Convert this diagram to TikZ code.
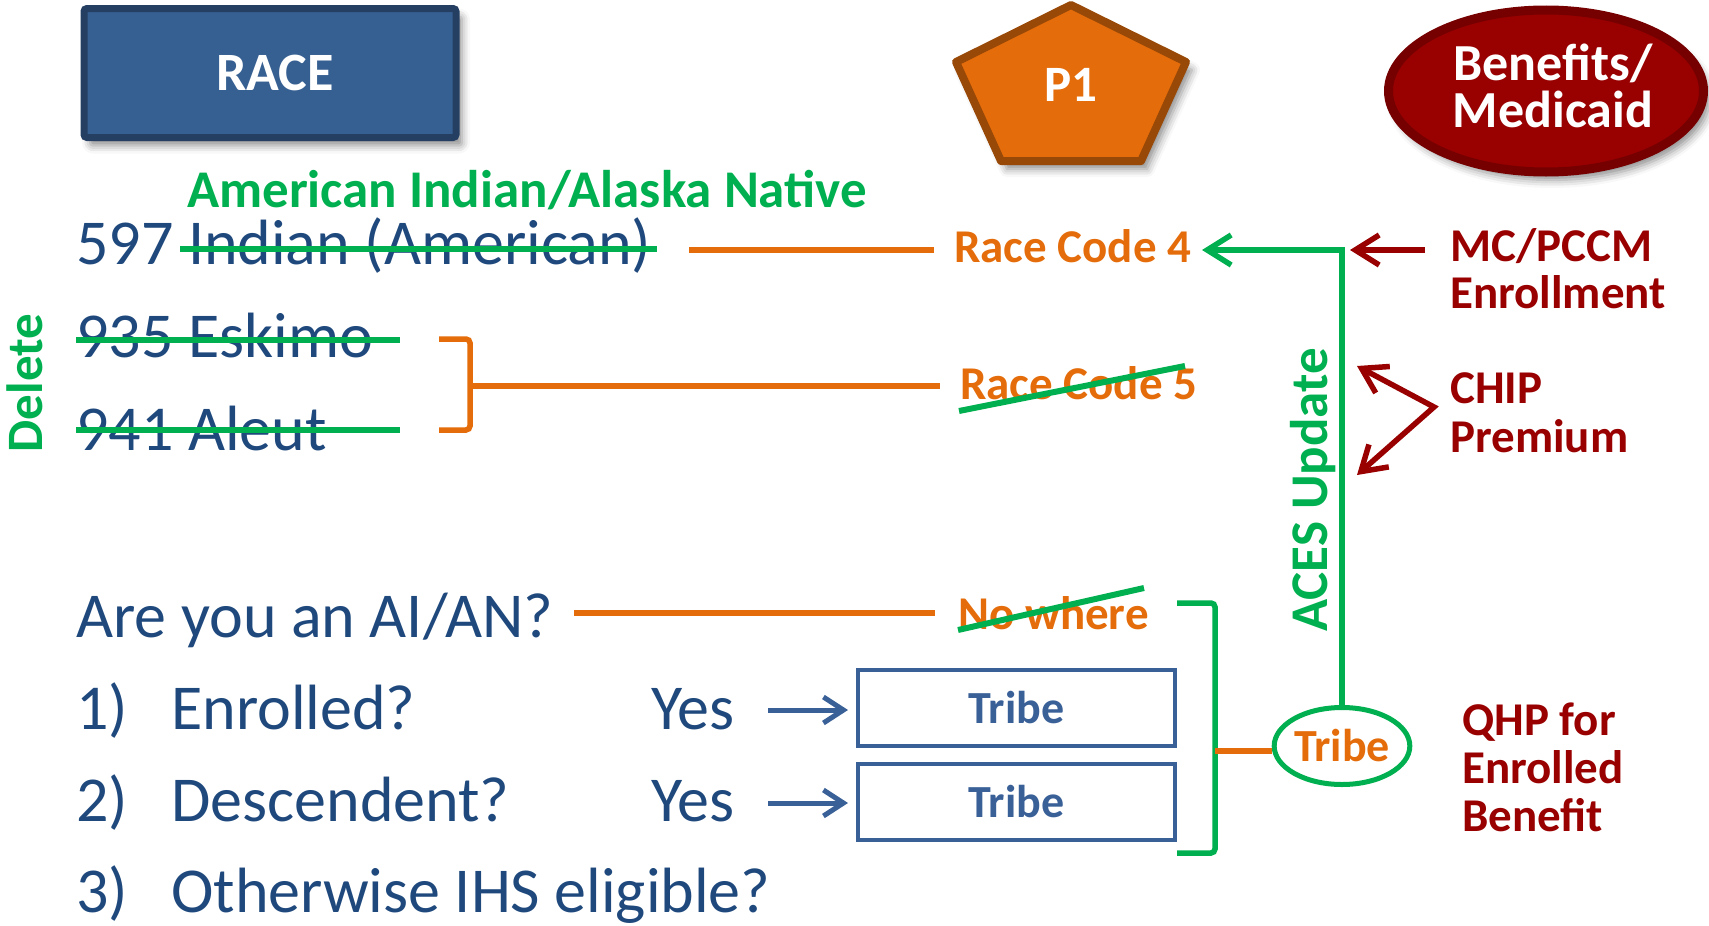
\documentclass[tikz,border=0pt]{standalone}
\usepackage{fontspec}
\setmainfont{Carlito}
\usetikzlibrary{arrows.meta,shapes.geometric,shadows.blur}

\definecolor{tblue}{RGB}{31,73,125}
\definecolor{aigreen}{RGB}{0,176,80}
\definecolor{aorange}{RGB}{228,108,10}
\definecolor{dred}{RGB}{153,0,0}
\definecolor{dredb}{RGB}{118,0,0}
\definecolor{racefill}{RGB}{55,96,146}
\definecolor{raceline}{RGB}{37,63,98}
\definecolor{p1line}{RGB}{152,72,7}
\definecolor{boxblue}{RGB}{58,96,152}

\tikzset{
  body/.style={inner sep=0pt, anchor=base west, text=tblue, font=\fontsize{64}{64}\selectfont},
  lbl/.style={inner sep=0pt, anchor=base west, font=\bfseries\fontsize{47}{47}\selectfont},
  strike/.style={draw=aigreen, line width=6pt},
  oline/.style={draw=aorange, line width=5.5pt},
  gline/.style={draw=aigreen, line width=5.5pt},
  rline/.style={draw=dred, line width=5.5pt},
  bline/.style={draw=boxblue, line width=5pt},
  bigbarb/.tip={Straight Barb[length=24pt,width=30pt]},
  smallbarb/.tip={Straight Barb[length=20pt,width=26pt]},
  shad/.style={blur shadow={shadow xshift=6pt, shadow yshift=-8pt, shadow blur radius=8pt, shadow opacity=45}},
  tribebox/.style={draw=boxblue, line width=4pt, minimum width=317pt, minimum height=76pt, inner sep=0pt,
    text=boxblue, font=\bfseries\fontsize{46}{46}\selectfont},
}

\begin{document}
\begin{tikzpicture}[x=1pt,y=-1pt]
\useasboundingbox (0,0) rectangle (1709,926);

% top shapes
\node[draw=raceline, fill=racefill, line width=7pt, rounded corners=3pt, minimum width=372pt,
  minimum height=129pt, inner sep=0pt, shad, text=white, font=\bfseries\fontsize{54}{54}\selectfont]
  (race) at (270,73) {\hspace{10pt}RACE};

\draw[draw=p1line, fill=aorange, line width=8pt, line join=round, shad]
  (1071,5) -- (1186,62) -- (1141,161) -- (1001,161) -- (956,62) -- cycle;
\node[inner sep=0pt, text=white, font=\bfseries\fontsize{51}{51}\selectfont] (p1) at (1071,85) {P1};

\node[ellipse, draw=dredb, fill=dred, line width=9pt, minimum width=315pt, minimum height=162pt,
  inner sep=0pt, shad] (ben) at (1546,91) {};
\node[inner sep=0pt, anchor=base, text=white, font=\bfseries\fontsize{52}{52}\selectfont] (ben1) at (1553,80) {Benefits/};
\node[inner sep=0pt, anchor=base, text=white, font=\bfseries\fontsize{52}{52}\selectfont] (ben2) at (1553,127) {Medicaid};

% race codes
\node[lbl, text=aigreen, font=\bfseries\fontsize{53}{53}\selectfont] (hdr) at (187,207) {American Indian/Alaska Native};
\node[body] (t597) at (76,264) {597 Indian (American)};
\node[body] (t935) at (76,357) {935 Eskimo};
\node[body] (t941) at (76,450) {941 Aleut};
\draw[strike] (180,249) -- (657,249);
\draw[strike] (76,340) -- (400,340);
\draw[strike] (76,430) -- (400,430);

\node[inner sep=0pt, rotate=90, anchor=base, text=aigreen, font=\bfseries\fontsize{51}{51}\selectfont] (del) at (42,383) {Delete};

\node[lbl, text=aorange] (rc4) at (954,262) {Race Code 4};
\node[lbl, text=aorange] (rc5) at (960,399) {Race Code 5};
\draw[strike] (959,411) -- (1185,366);

\coordinate (l1a) at (689,250);
\coordinate (l1b) at (934,250);
\draw[oline] (l1a) -- (l1b);

\coordinate (br1) at (439,339);
\coordinate (br2) at (439,430);
\draw[oline, rounded corners=4pt] (br1) -- (470,339) -- (470,430) -- (br2);
\coordinate (l5a) at (470,386);
\coordinate (l5b) at (940,386);
\draw[oline] (l5a) -- (l5b);

% right labels
\node[lbl, text=dred] (mc1) at (1450,261) {MC/PCCM};
\node[lbl, text=dred] (mc2) at (1450,308) {Enrollment};
\node[lbl, text=dred] (chip1) at (1450,403) {CHIP};
\node[lbl, text=dred] (chip2) at (1450,452) {Premium};
\node[lbl, text=dred] (qhp1) at (1462,735) {QHP for};
\node[lbl, text=dred] (qhp2) at (1462,783) {Enrolled};
\node[lbl, text=dred] (qhp3) at (1462,831) {Benefit};

\node[inner sep=0pt, rotate=90, anchor=base, text=aigreen, font=\bfseries\fontsize{53}{53}\selectfont] (aces) at (1327,490) {ACES Update};

% questions
\node[body] (q0) at (76,637) {Are you an AI/AN?};
\node[body] (q1n) at (76,729) {1)};
\node[body] (q1) at (171,729) {Enrolled?};
\node[body] (y1) at (651,729) {Yes};
\node[body] (q2n) at (76,821) {2)};
\node[body] (q2) at (171,821) {Descendent?};
\node[body] (y2) at (651,821) {Yes};
\node[body] (q3n) at (76,912) {3)};
\node[body] (q3) at (171,912) {Otherwise IHS eligible?};

\coordinate (l0a) at (574,613);
\coordinate (l0b) at (935,613);
\draw[oline] (l0a) -- (l0b);
\node[lbl, text=aorange] (nw) at (958,629) {No where};
\draw[strike] (958,630) -- (1144,588);

\node[tribebox] (tb1) at (1016.5,708) {Tribe};
\node[tribebox] (tb2) at (1016.5,802) {Tribe};
\coordinate (a1) at (768,710);
\coordinate (a2) at (768,803);
\draw[bline, -smallbarb, shorten >=8pt] (a1) -- (a1 -| tb1.west);
\draw[bline, -smallbarb, shorten >=8pt] (a2) -- (a2 -| tb2.west);

\coordinate (gb1) at (1177,603);
\coordinate (gb2) at (1177,853);
\draw[gline, rounded corners=4pt] (gb1) -- (1215,603) -- (1215,853) -- (gb2);

\node[ellipse, draw=aigreen, line width=5pt, fill=white, minimum width=131pt, minimum height=77pt,
  inner sep=0pt, text=aorange, font=\bfseries\fontsize{46}{46}\selectfont] (tc) at (1342,746) {Tribe};
\coordinate (lt) at (1215,751);
\draw[oline] (lt) -- (lt -| tc.west);

% arrows
\coordinate (g4) at (1202,250);
\draw[gline, -bigbarb] (tc.north) |- (g4);
\coordinate (r4a) at (1425,250);
\coordinate (r4b) at (1350,250);
\draw[rline, -bigbarb] (r4a) -- (r4b);
\coordinate (cv) at (1434,407);
\coordinate (ct1) at (1357,366);
\coordinate (ct2) at (1357,475);
\draw[rline, bigbarb-bigbarb, line join=miter] (ct1) -- (cv) -- (ct2);
\end{tikzpicture}
\end{document}
